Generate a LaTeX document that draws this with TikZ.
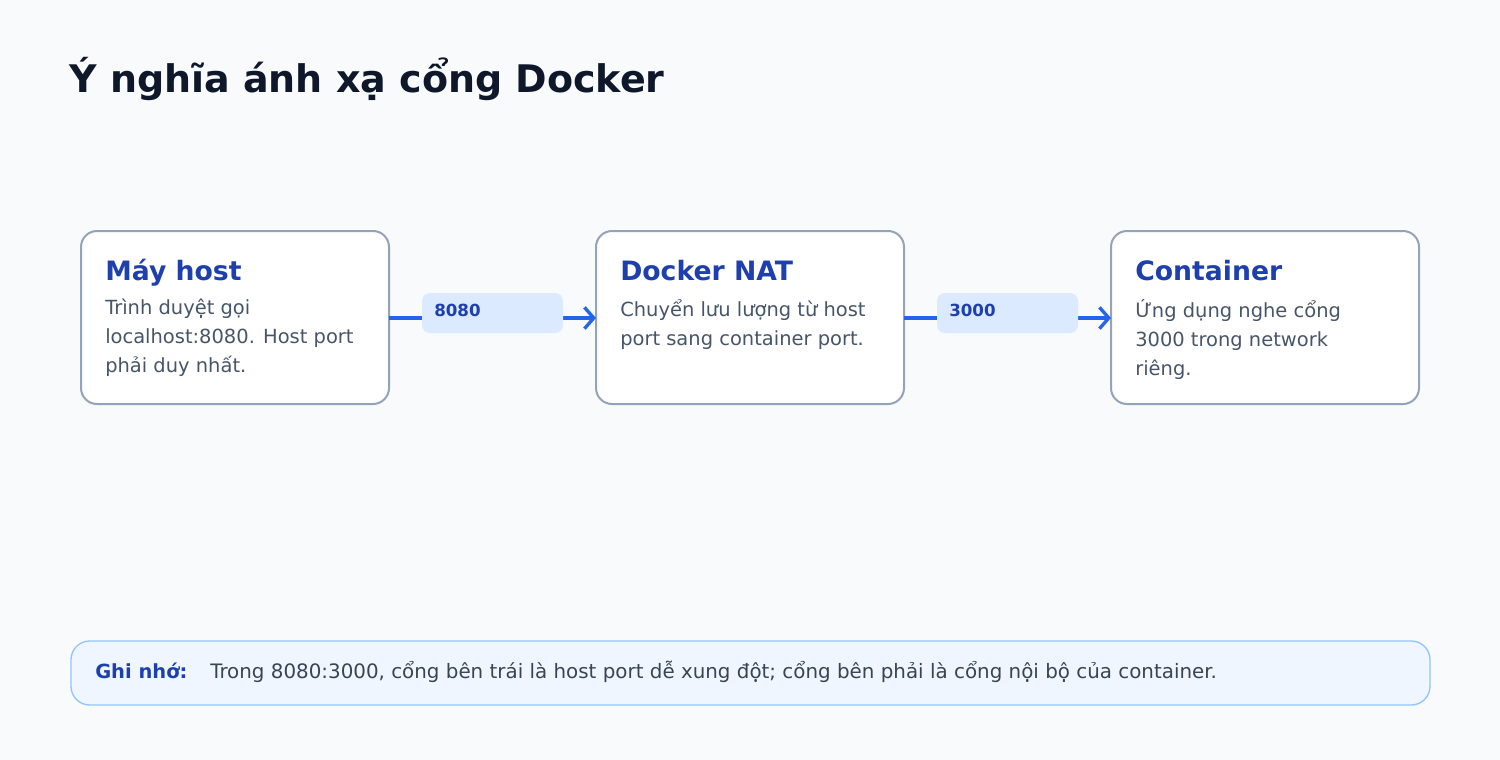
\documentclass[tikz,border=0pt]{standalone}
\usepackage{fontspec}
\setmainfont{DejaVu Sans}
\usetikzlibrary{arrows.meta}
\definecolor{bgc}{HTML}{F8FAFC}
\definecolor{edgec}{HTML}{94A3B8}
\definecolor{headc}{HTML}{1E40AF}
\definecolor{bodyc}{HTML}{475569}
\definecolor{arrowc}{HTML}{2563EB}
\definecolor{tagc}{HTML}{DBEAFE}
\definecolor{notec}{HTML}{EFF6FF}
\definecolor{noteedge}{HTML}{93C5FD}
\definecolor{titlec}{HTML}{0F172A}
\tikzset{
  stagebox/.style={draw=edgec, line width=1.5pt, fill=white, rounded corners=12pt},
  stagehead/.style={anchor=base west, inner sep=0pt, font=\fontsize{20}{24}\selectfont\bfseries, text=headc},
  stagebody/.style={anchor=north west, inner sep=0pt, align=left, font=\fontsize{14.6}{21.75}\selectfont, text=bodyc},
  porttag/.style={fill=tagc, rounded corners=6pt},
  porttext/.style={anchor=base west, inner sep=0pt, font=\fontsize{12.5}{14}\selectfont\bfseries, text=headc},
  flow/.style={draw=arrowc, line width=3pt, -{Straight Barb[length=7pt,width=16pt,line width=2.5pt]}}
}
\begin{document}
\begin{tikzpicture}[x=0.75pt,y=-0.75pt]
  \fill[bgc] (0,0) rectangle (1500,760);
  \node[anchor=base west, inner sep=0pt, font=\fontsize{28.5}{32}\selectfont\bfseries, text=titlec] (title) at (69,92) {Ý nghĩa ánh xạ cổng Docker};

  % stage boxes
  \draw[stagebox] (81,231) rectangle (389,404);
  \draw[stagebox] (596,231) rectangle (904,404);
  \draw[stagebox] (1111,231) rectangle (1419,404);
  \coordinate (hostR) at (389,318);
  \coordinate (natL) at (596,318);
  \coordinate (natR) at (904,318);
  \coordinate (contL) at (1111,318);

  \node[stagehead] (hosthead) at (105,280) {Máy host};
  \node[stagebody] (hostbody) at (105,299) {Trình duyệt gọi\\localhost:8080. Host port\\phải duy nhất.};
  \node[stagehead] (nathead) at (620,280) {Docker NAT};
  \node[stagebody] (natbody) at (620,299) {Chuyển lưu lượng từ host\\port sang container port.};
  \node[stagehead] (conthead) at (1135,280) {Container};
  \node[stagebody] (contbody) at (1135,299) {Ứng dụng nghe cổng\\3000 trong network\\riêng.};

  % connectors with port tags
  \draw[flow] (hostR) -- (natL);
  \draw[flow] (natR) -- (contL);
  \fill[porttag] (422,293) rectangle (563,333);
  \fill[porttag] (937,293) rectangle (1078,333);
  \node[porttext] (tag1) at (434,316) {8080};
  \node[porttext] (tag2) at (949,316) {3000};

  % note
  \draw[draw=noteedge, fill=notec, line width=1pt, rounded corners=14pt] (71,641) rectangle (1430,705);
  \node[anchor=base west, inner sep=0pt, font=\fontsize{14.6}{16}\selectfont\bfseries, text=headc] (notehead) at (95,678) {Ghi nhớ:};
  \node[anchor=base west, inner sep=0pt, font=\fontsize{14.9}{16}\selectfont, text=bodyc!80!black] (notebody) at (210,678) {Trong 8080:3000, cổng bên trái là host port dễ xung đột; cổng bên phải là cổng nội bộ của container.};
\end{tikzpicture}
\end{document}
